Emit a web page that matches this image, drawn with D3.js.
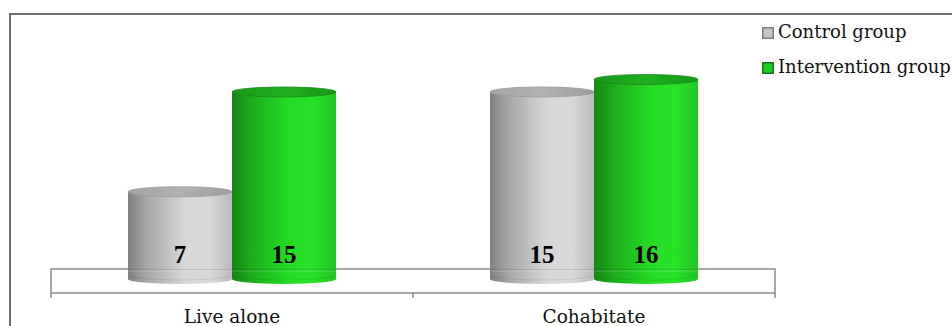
<!DOCTYPE html>
<html>
<head>
<meta charset="utf-8">
<script src="https://cdn.jsdelivr.net/npm/d3@7"></script>
<style>
  html, body { margin: 0; padding: 0; background: #fff; }
  svg { display: block; }
</style>
</head>
<body>
<svg id="chart" width="952" height="326"></svg>
<script>
// Living arrangement by group
const categories = ["Live alone", "Cohabitate"];
const seriesNames = ["Control group", "Intervention group"];
const controlValues = [7, 15];
const interventionValues = [15, 16];
const valueLabels = [["7", "15"], ["15", "16"]];

const W = 952, H = 326;
const svg = d3.select("#chart");

// Outer frame
svg.append("rect")
  .attr("x", 10).attr("y", 14)
  .attr("width", 960).attr("height", 340)
  .attr("fill", "#fff")
  .attr("stroke", "#6e6e6e").attr("stroke-width", 2);

const floorLeft = 51, floorRight = 775;
const x = d3.scaleBand().domain(categories).range([floorLeft, floorRight]).paddingInner(0).paddingOuter(0);
const xs = d3.scaleBand().domain(seriesNames).range([0, x.bandwidth()]).paddingOuter(0.74).paddingInner(0);
const y = d3.scaleLinear().domain([0, 16]).range([279, 79.5]);

const defs = svg.append("defs");
function bodyGrad(id, stops) {
  const g = defs.append("linearGradient").attr("id", id).attr("x1", "0%").attr("x2", "100%").attr("y1", "0%").attr("y2", "0%");
  stops.forEach(([o, c]) => g.append("stop").attr("offset", o).attr("stop-color", c));
}
bodyGrad("gGray", [["0%", "#7c7c7c"], ["18%", "#a4a4a4"], ["55%", "#d6d6d6"], ["78%", "#d8d8d8"], ["100%", "#b8b8b8"]]);
bodyGrad("gGreen", [["0%", "#0e830e"], ["18%", "#15a815"], ["55%", "#1fdc1f"], ["78%", "#21e221"], ["100%", "#1cc21c"]]);
bodyGrad("gGrayTop", [["0%", "#a4a4a4"], ["50%", "#b2b2b2"], ["100%", "#9e9e9e"]]);
bodyGrad("gGreenTop", [["0%", "#1a9a1a"], ["50%", "#1fae1f"], ["100%", "#1a981a"]]);

const styles = {
  "Control group": { body: "url(#gGray)", top: "url(#gGrayTop)", rim: "#9a9a9a", swatch: "#c4c4c4", swStroke: "#7a7a7a" },
  "Intervention group": { body: "url(#gGreen)", top: "url(#gGreenTop)", rim: "#178a17", swatch: "#22cc22", swStroke: "#1a6e1a" }
};

// Floor slab
const floorTop = 269, floorBottom = 293;
const floor = svg.append("g");
floor.append("path")
  .attr("d", `M${floorLeft},${floorTop}H${floorRight}V${floorBottom}H${floorLeft}Z`)
  .attr("fill", "#fff").attr("stroke", "#8a8a8a").attr("stroke-width", 1.5);

// Axis with ticks at band boundaries
const axisG = svg.append("g").attr("transform", `translate(0,${floorBottom})`);
const tickPos = categories.map(c => x(c)).concat([floorRight]);
axisG.selectAll("line.tick").data(tickPos).join("line")
  .attr("x1", d => d).attr("x2", d => d).attr("y1", 0).attr("y2", 5)
  .attr("stroke", "#8a8a8a").attr("stroke-width", 1.5);
axisG.selectAll("text").data(categories).join("text")
  .attr("x", d => x(d) + x.bandwidth() / 2)
  .attr("y", 30)
  .attr("text-anchor", "middle")
  .attr("font-family", "'DejaVu Serif', serif")
  .attr("font-size", 18.5)
  .attr("fill", "#111")
  .text(d => d);

// Cylinders
const ry = 5;
const rows = [];
categories.forEach((c, i) => {
  rows.push({ cat: c, s: seriesNames[0], v: controlValues[i], label: valueLabels[i][0] });
  rows.push({ cat: c, s: seriesNames[1], v: interventionValues[i], label: valueLabels[i][1] });
});

const bars = svg.append("g").selectAll("g").data(rows).join("g");
bars.each(function (d) {
  const g = d3.select(this);
  const x0 = x(d.cat) + xs(d.s);
  const w = xs.bandwidth();
  const rx = w / 2;
  const yt = y(d.v), yb = y(0);
  const st = styles[d.s];
  g.append("path")
    .attr("d", `M${x0},${yt}L${x0},${yb}A${rx},${ry} 0 0 0 ${x0 + w},${yb}L${x0 + w},${yt}Z`)
    .attr("fill", st.body).attr("opacity", 0.97);
  // floor edge faintly visible through the base
  g.append("path")
    .attr("d", `M${x0 + 1},${floorTop + 0.5}H${x0 + w - 1}`)
    .attr("stroke", "#000").attr("stroke-opacity", 0.1).attr("stroke-width", 1);
  g.append("path")
    .attr("d", `M${x0 + 1},${floorTop + 2}H${x0 + w - 1}`)
    .attr("stroke", "#fff").attr("stroke-opacity", 0.2).attr("stroke-width", 1);
  g.append("path")
    .attr("d", `M${x0 + 2},${yb - 4}A${rx - 2},${ry} 0 0 0 ${x0 + w - 2},${yb - 4}`)
    .attr("fill", "none").attr("stroke", "#000").attr("stroke-opacity", 0.08).attr("stroke-width", 1);
  g.append("ellipse")
    .attr("cx", x0 + rx).attr("cy", yt).attr("rx", rx).attr("ry", ry)
    .attr("fill", st.top).attr("stroke", st.rim).attr("stroke-width", 0.8);
  g.append("text")
    .attr("x", x0 + rx)
    .attr("y", yb - 16)
    .attr("text-anchor", "middle")
    .attr("font-family", "'Liberation Serif', serif")
    .attr("font-weight", "bold")
    .attr("font-size", 25)
    .attr("fill", "#000")
    .text(d.label);
});

// Legend
const legend = svg.append("g").attr("transform", "translate(762,27)");
const li = legend.selectAll("g").data(seriesNames).join("g")
  .attr("transform", (d, i) => `translate(0,${i * 35})`);
li.append("rect")
  .attr("x", 0.75).attr("y", 0.75).attr("width", 10.5).attr("height", 10.5)
  .attr("fill", d => styles[d].swatch).attr("stroke", d => styles[d].swStroke).attr("stroke-width", 1.5);
li.append("text")
  .attr("x", 16).attr("y", 11)
  .attr("font-family", "'DejaVu Serif', serif")
  .attr("font-size", 18)
  .attr("fill", "#111")
  .text(d => d);
</script>
</body>
</html>
